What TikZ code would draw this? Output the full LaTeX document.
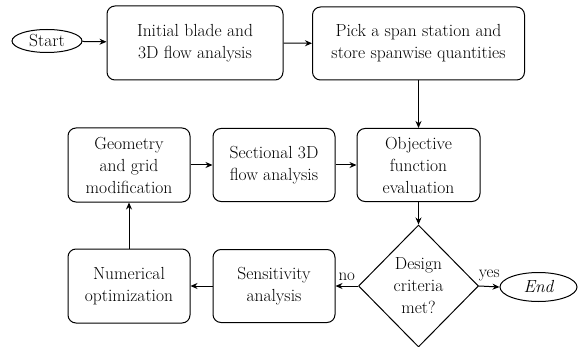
\documentclass[tikz,border=0pt]{standalone}
\usetikzlibrary{shapes.geometric,arrows.meta}
\begin{document}
\begin{tikzpicture}[x=1pt,y=-1pt,
  every node/.style={font=\fontsize{17.5}{22}\selectfont},
  box/.style={draw,line width=1pt,rounded corners=8pt,align=center,inner sep=0pt},
  term/.style={draw,line width=1pt,ellipse,inner sep=0pt},
  dec/.style={draw,line width=1pt,diamond,inner sep=0pt,minimum width=120pt,minimum height=122pt,align=center},
  arr/.style={line width=1pt,-{Stealth[length=7pt,width=6pt]}},
  lab/.style={font=\fontsize{17}{20}\selectfont}]
\useasboundingbox (0,0) rectangle (585,347);
\node[term,minimum width=70pt,minimum height=23pt] (start) at (47,41) {Start};
\node[box,minimum width=176pt,minimum height=74pt] (init) at (195,43) {Initial blade and\\3D flow analysis};
\node[box,minimum width=212pt,minimum height=73pt] (pick) at (418.5,43.5) {Pick a span station and\\store spanwise quantities};
\node[box,minimum width=122pt,minimum height=74pt] (geom) at (129,165) {Geometry\\and grid\\modification};
\node[box,minimum width=122pt,minimum height=73pt] (sect) at (274,165) {Sectional 3D\\flow analysis};
\node[box,minimum width=123pt,minimum height=73pt] (obj) at (418.5,165) {Objective\\function\\evaluation};
\node[box,minimum width=122pt,minimum height=74pt] (num) at (129,286) {Numerical\\optimization};
\node[box,minimum width=122pt,minimum height=73pt] (sens) at (274,286) {Sensitivity\\analysis};
\node[dec] (des) at (418.5,286) {Design\\criteria\\met?};
\node[term,minimum width=77pt,minimum height=29pt] (end) at (538.5,287) {\itshape End};
\draw[arr] (start) -- (init);
\draw[arr] (init) -- (pick);
\draw[arr] (pick.south) -- (obj.north);
\draw[arr] (geom) -- (sect);
\draw[arr] (sect) -- (obj);
\draw[arr] (obj.south) -- (des.north);
\draw[arr] (des.west) -- node[lab,above=2pt] {no} (sens.east);
\draw[arr] (sens) -- (num);
\draw[arr] (des.east) -- node[lab,above=2pt] {yes} (end.west);
\draw[arr] (num) -- (geom);
\end{tikzpicture}
\end{document}
